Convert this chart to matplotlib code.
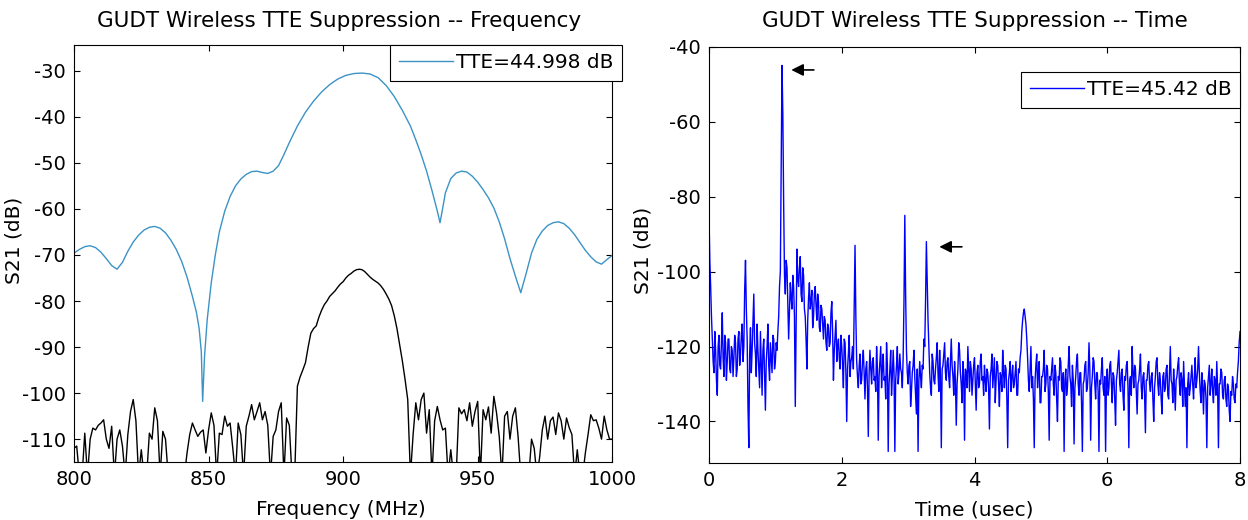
import numpy as np
import matplotlib
matplotlib.use('Agg')
import matplotlib.pyplot as plt

plt.rcParams['font.family'] = ['DejaVu Sans']
plt.rcParams['axes.unicode_minus'] = False

# ---- frequency domain: response (blue) and gated/suppressed response (black)
freq_resp = [800, 802, 804, 806, 808, 810, 812, 814, 816, 818, 820, 822, 824, 826, 828, 830,
             832, 834, 836, 838, 840, 842, 844, 845.5, 846.5, 847.3, 847.8, 848.5, 849.5, 851,
             852.5, 854, 856, 858, 860, 862, 864, 866, 868, 870, 872, 874, 876, 878, 880, 883,
             886, 889, 892, 895, 898, 901, 904, 907, 910, 913, 916, 919, 922, 925, 927, 929,
             931, 933, 935, 936, 937, 938, 940, 942, 944, 946, 948, 950, 952, 954, 956, 958,
             960, 962, 964, 966, 968, 970, 972, 974, 976, 978, 980, 982, 984, 986, 988, 990,
             992, 994, 996, 998, 1000]
s21_resp = [-69.6, -68.8, -68.2, -68.0, -68.4, -69.4, -70.8, -72.3, -73.1, -71.6, -69.2, -67.2,
            -65.7, -64.6, -64.0, -63.8, -64.2, -65.2, -66.8, -68.8, -71.4, -74.8, -79.0, -82.5,
            -86.0, -91.0, -101.8, -92.0, -84.0, -76.0, -70.0, -65.0, -60.5, -57.3, -55.0, -53.5,
            -52.5, -51.9, -51.8, -52.1, -52.3, -51.8, -50.6, -48.2, -45.6, -42.0, -39.0, -36.6,
            -34.6, -33.0, -31.8, -31.0, -30.6, -30.5, -30.7, -31.5, -33.2, -35.6, -38.6, -42.0,
            -45.0, -48.2, -51.8, -56.0, -60.5, -63.0, -59.8, -56.5, -53.4, -52.2, -51.8, -52.0,
            -52.9, -54.2, -55.8, -57.6, -59.8, -62.8, -66.5, -70.8, -74.6, -78.2, -74.0, -69.6,
            -66.6, -64.8, -63.6, -63.0, -62.8, -63.2, -64.2, -65.6, -67.3, -69.0, -70.4, -71.5,
            -72.0, -71.0, -70.1]

# 800 .. 1000 MHz in 1 MHz steps
s21_gated = [
    -112, -111.5, -118, -118, -108.7, -118, -110, -107.6, -108, -107, -106.5, -105.8, -110, -112,
    -107.2, -118, -110, -108, -111.5, -118, -109, -104, -101.4, -106, -118, -112.3, -118, -118,
    -108.7, -110, -103.2, -106, -118, -108.3, -110, -118, -118, -118, -118, -118, -118, -118,
    -113, -109, -106.5, -108, -109.4, -108.5, -108, -113, -108, -104.3, -107, -118, -108.7, -109,
    -105, -107.2, -106.5, -112, -118, -106.5, -109, -118, -107.2, -105, -102.5, -105.8, -104,
    -102.1, -105.8, -104, -107, -118, -109.4, -108, -104, -102.1, -118, -105.4, -107, -118, -118,
    -98.5, -96.5, -95, -93.4, -90, -87, -86, -85.4, -83.5, -82, -80.8, -80, -79, -78.4, -77.8,
    -77, -76.3, -75.8, -75, -74.4, -74, -73.5, -73.2, -73.1, -73.2, -73.6, -74.2, -74.8, -75.3,
    -75.7, -76.1, -76.7, -77.5, -78.5, -79.6, -81, -83.2, -86, -89.5, -93, -97, -101.4, -118,
    -109, -102.1, -105.8, -101.4, -100, -108.7, -103.6, -118, -106, -102.9, -105.8, -108, -107.6,
    -118, -112.3, -118, -118, -103.2, -104.5, -103.6, -106, -102.1, -107.2, -104, -101.8, -118,
    -103.6, -105.8, -103, -108.7, -100.7, -104.3, -109.4, -118, -105, -104, -110, -105, -103.2,
    -109.4, -118, -118, -118, -118, -110, -112, -118, -114, -108, -105, -110, -106, -105.2, -109,
    -104.3, -106, -110, -105.4, -107.5, -109, -118, -112.3, -118, -118, -113, -109, -104.7, -106,
    -105.8, -107.6, -110, -105, -108, -110, -110]
freq_gated = np.linspace(800, 1000, len(s21_gated))

# ---- time domain (0 .. 8 usec)
s21_time = [
    -85, -97, -104, -112, -118, -124, -127, -116, -121, -129, -133, -120, -117, -125, -126, -119,
    -111, -123, -128, -117, -119, -129, -124, -118, -118, -126, -127, -120, -121, -128, -123, -117,
    -119, -128, -126, -118, -116, -125, -122, -117, -114, -124, -120, -105, -97, -110, -118, -136,
    -147, -122, -115, -127, -121, -113, -106, -119, -122, -128, -114, -121, -126, -131, -116, -124,
    -133, -121, -118, -127, -137, -124, -120, -114, -125, -129, -119, -123, -127, -117, -118, -126,
    -124, -119, -121, -116, -112, -104, -100, -72, -45, -58, -82, -101, -106, -97, -99, -108,
    -118, -110, -103, -107, -110, -101, -104, -112, -136, -115, -94, -102, -104, -99, -96, -106,
    -108, -99, -101, -110, -112, -118, -126, -113, -107, -103, -110, -108, -105, -115, -112, -106,
    -104, -109, -113, -106, -108, -115, -116, -109, -110, -114, -118, -112, -113, -119, -121, -114,
    -115, -120, -119, -111, -108, -116, -129, -121, -117, -113, -124, -120, -118, -123, -126, -117,
    -120, -125, -131, -118, -119, -127, -140, -126, -122, -117, -128, -124, -123, -120, -126, -110,
    -93, -112, -124, -128, -131, -125, -122, -130, -129, -124, -121, -127, -134, -126, -124, -131,
    -144, -127, -121, -126, -130, -124, -123, -129, -128, -132, -120, -126, -145, -128, -124, -120,
    -131, -126, -122, -129, -128, -134, -119, -125, -148, -130, -126, -121, -133, -128, -121, -127,
    -148, -129, -125, -120, -130, -127, -122, -126, -127, -131, -123, -108, -85, -106, -121, -127,
    -130, -125, -124, -136, -132, -127, -125, -121, -128, -133, -138, -126, -148, -129, -124, -128,
    -131, -125, -126, -118, -120, -108, -92, -103, -113, -120, -127, -131, -133, -122, -124, -129,
    -130, -126, -123, -119, -127, -132, -121, -128, -147, -126, -125, -122, -119, -127, -129, -124,
    -123, -128, -131, -124, -118, -125, -128, -133, -124, -129, -141, -130, -126, -119, -121, -127,
    -130, -135, -124, -128, -145, -126, -127, -131, -120, -126, -132, -124, -126, -133, -129, -125,
    -123, -130, -137, -127, -125, -131, -130, -124, -122, -129, -128, -133, -125, -129, -132, -126,
    -127, -131, -142, -128, -126, -122, -131, -127, -123, -135, -129, -124, -125, -130, -136, -127,
    -128, -132, -121, -127, -131, -125, -126, -134, -147, -129, -127, -124, -132, -128, -125, -131,
    -130, -127, -124, -133, -133, -126, -127, -123, -121, -116, -113, -111, -110, -112, -114, -118,
    -123, -129, -132, -126, -120, -131, -128, -134, -147, -129, -125, -122, -131, -127, -124, -135,
    -135, -128, -128, -126, -121, -132, -130, -125, -126, -132, -145, -128, -129, -126, -123, -130,
    -133, -125, -127, -134, -140, -128, -129, -123, -124, -131, -132, -127, -148, -129, -126, -133,
    -131, -125, -120, -128, -130, -136, -125, -129, -146, -131, -128, -124, -122, -130, -133, -127,
    -127, -135, -148, -130, -129, -125, -124, -132, -131, -127, -119, -126, -145, -131, -128, -123,
    -124, -130, -134, -127, -127, -132, -148, -129, -130, -126, -123, -131, -133, -128, -148, -130,
    -126, -133, -131, -125, -124, -130, -135, -127, -128, -134, -141, -129, -127, -124, -121, -130,
    -132, -127, -126, -133, -137, -128, -129, -125, -124, -131, -147, -129, -128, -133, -120, -127,
    -131, -125, -126, -132, -138, -130, -129, -126, -122, -131, -134, -128, -127, -133, -143, -129,
    -129, -125, -124, -130, -132, -128, -127, -134, -140, -131, -128, -124, -123, -130, -133, -127,
    -129, -134, -138, -128, -127, -132, -131, -126, -125, -133, -134, -127, -120, -129, -130, -135,
    -126, -131, -137, -129, -128, -125, -123, -130, -133, -127, -129, -136, -124, -130, -136, -131,
    -147, -130, -127, -133, -131, -128, -125, -130, -134, -128, -123, -131, -129, -126, -120, -127,
    -132, -135, -127, -131, -138, -129, -130, -134, -147, -131, -128, -125, -133, -130, -126, -132,
    -135, -128, -129, -133, -124, -131, -147, -130, -130, -126, -127, -133, -134, -129, -128, -134,
    -136, -130, -131, -137, -140, -132, -133, -128, -130, -134, -135, -130, -131, -127, -124, -119,
    -116]
time_us = np.linspace(0, 8, len(s21_time))

freq_ticks = [800, 850, 900, 950, 1000]
freq_yticks = [-110, -100, -90, -80, -70, -60, -50, -40, -30]
time_ticks = [0, 2, 4, 6, 8]
time_yticks = [-140, -120, -100, -80, -60, -40]
arrow_tips = [(1.24, -46.2), (3.47, -93.4)]


def style_axes(ax):
    ax.tick_params(direction='in', length=4, width=0.8, top=True, right=True,
                   labelsize=14, pad=6, colors='black')
    for sp in ax.spines.values():
        sp.set_linewidth(0.8)
        sp.set_color('black')


fig = plt.figure(figsize=(12.48, 5.2), dpi=100)
ax1 = fig.add_axes([0.0593, 0.1121, 0.4313, 0.8014])
ax2 = fig.add_axes([0.5681, 0.1102, 0.4255, 0.8000])

# left: frequency
ax1.plot(freq_resp, s21_resp, color='#3b93c6', linewidth=1.0, label='TTE=44.998 dB')
ax1.plot(freq_gated, s21_gated, color='black', linewidth=1.0)
ax1.set_xlim(800, 1000)
ax1.set_ylim(-114.9, -24.4)
ax1.set_xticks(freq_ticks)
ax1.set_yticks(freq_yticks)
style_axes(ax1)
ax1.set_xlabel('Frequency (MHz)', fontsize=14.5)
ax1.set_ylabel('S21 (dB)', fontsize=14.5)
ax1.xaxis.set_label_coords(0.496, -0.092)
ax1.yaxis.set_label_coords(-0.093, 0.53)
ax1.text(0.493, 1.058, 'GUDT Wireless TTE Suppression -- Frequency', transform=ax1.transAxes,
         ha='center', va='center', fontsize=15.5)
leg1 = ax1.legend(loc='upper right', bbox_to_anchor=(1.018, 1.0), borderaxespad=0,
                  fontsize=14.5, handlelength=2.7, handletextpad=0.15, fancybox=False,
                  framealpha=1, edgecolor='black', borderpad=0.42)
leg1.get_frame().set_linewidth(0.8)

# right: time
ax2.plot(time_us, s21_time, color='#0000ff', linewidth=1.0, label='TTE=45.42 dB')
ax2.set_xlim(0, 8)
ax2.set_ylim(-151, -40)
ax2.set_xticks(time_ticks)
ax2.set_yticks(time_yticks)
style_axes(ax2)
ax2.set_xlabel('Time (usec)', fontsize=14.5)
ax2.set_ylabel('S21 (dB)', fontsize=14.5)
ax2.xaxis.set_label_coords(0.5, -0.092)
ax2.yaxis.set_label_coords(-0.106, 0.51)
ax2.text(0.5, 1.062, 'GUDT Wireless TTE Suppression -- Time', transform=ax2.transAxes,
         ha='center', va='center', fontsize=15.5)
leg2 = ax2.legend(loc='upper right', bbox_to_anchor=(1.0, 0.94), borderaxespad=0,
                  fontsize=14.5, handlelength=2.7, handletextpad=0.15, fancybox=False,
                  framealpha=1, edgecolor='black', borderpad=0.42)
leg2.get_frame().set_linewidth(0.8)

for tx, ty in arrow_tips:
    ax2.annotate('', xy=(tx, ty), xytext=(tx + 0.34, ty),
                 arrowprops=dict(arrowstyle='-|>', color='black', lw=1.2,
                                 mutation_scale=18, shrinkA=0, shrinkB=0))

fig.savefig('out.png', dpi=100)
